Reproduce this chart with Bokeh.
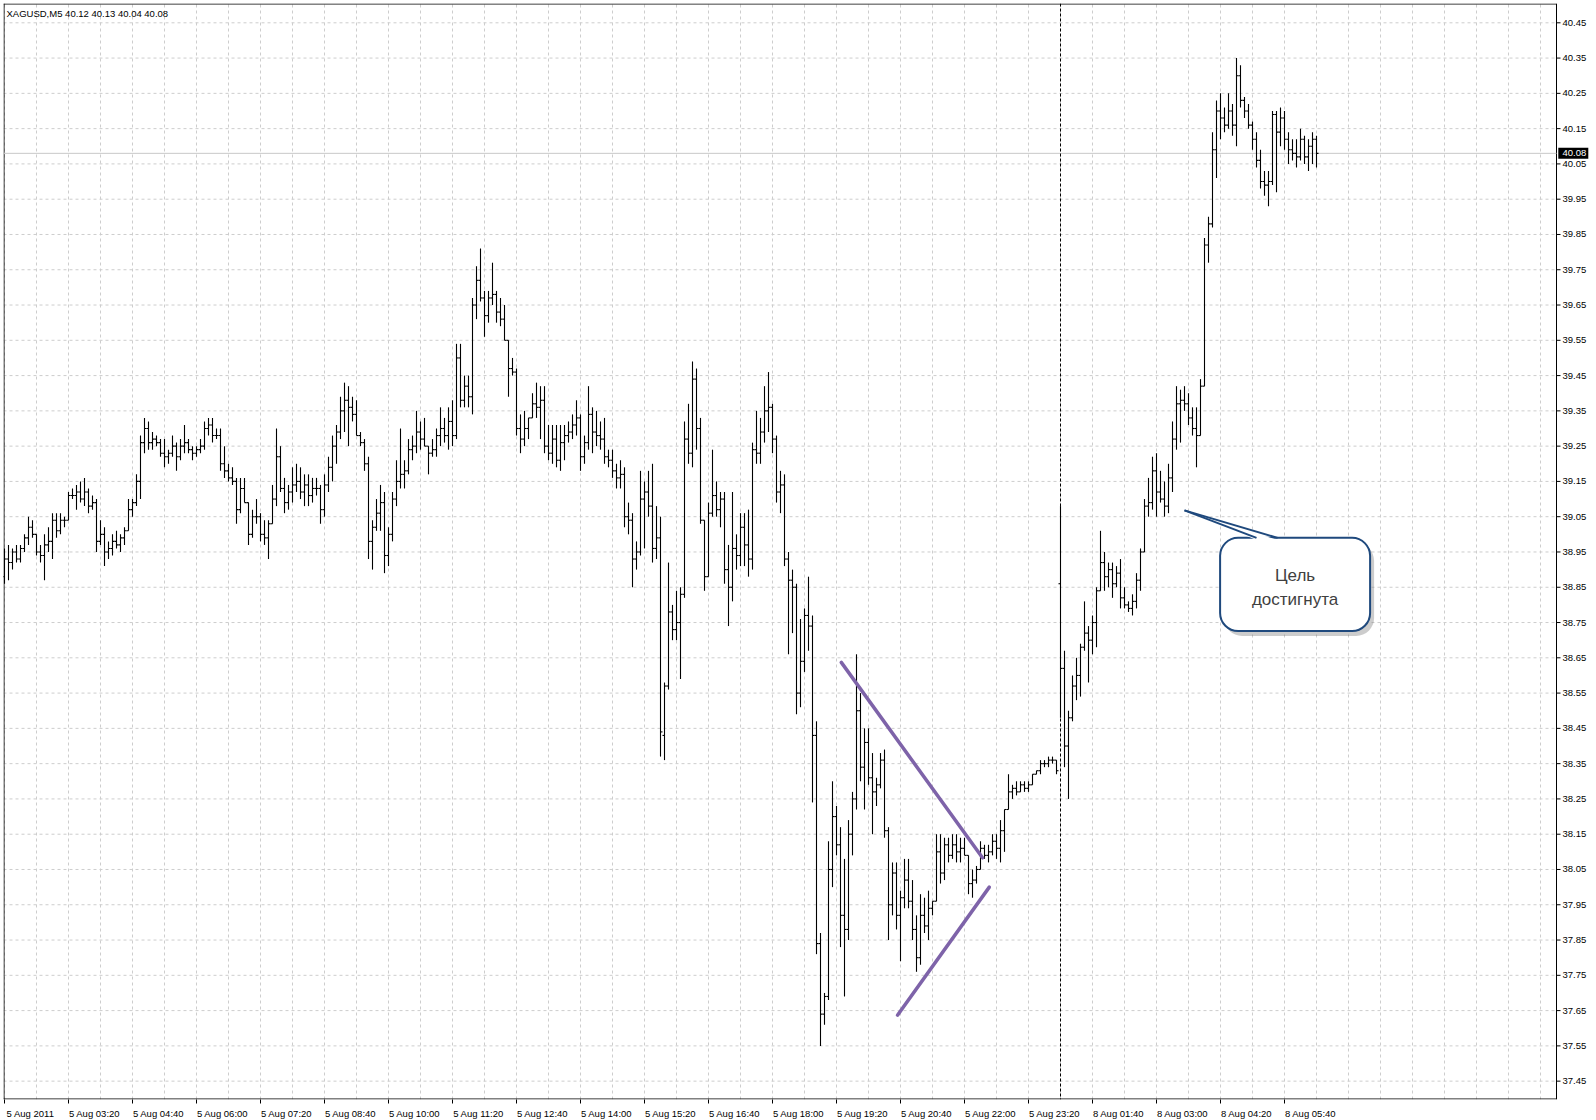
import numpy as np
from bokeh.plotting import figure
from bokeh.models import ColumnDataSource, Range1d, FixedTicker, Span, Label, BoxAnnotation
from bokeh.core.properties import value
from bokeh.embed import file_html
from bokeh.resources import INLINE

# XAGUSD M5, 5 Aug 2011 02:00 .. 8 Aug 2011 ~06:20 (one entry per bar)
opens = [
    38.88, 38.93, 38.92, 38.95, 38.93, 38.96, 38.99, 39.02, 39.00, 38.95,
    38.94, 38.97, 38.98, 39.04, 39.01, 39.04, 39.04, 39.11, 39.11, 39.12,
    39.10, 39.12, 39.08, 39.09, 38.98, 39.00, 38.95, 38.96, 38.98, 38.97,
    38.99, 39.01, 39.07, 39.09, 39.15, 39.26, 39.30, 39.26, 39.27, 39.26,
    39.23, 39.22, 39.23, 39.25, 39.22, 39.25, 39.26, 39.24, 39.23, 39.24,
    39.25, 39.30, 39.31, 39.28, 39.28, 39.20, 39.18, 39.16, 39.15, 39.07,
    39.13, 39.09, 39.00, 39.05, 39.05, 39.00, 38.99, 39.03, 39.10, 39.22,
    39.13, 39.09, 39.12, 39.14, 39.15, 39.12, 39.14, 39.11, 39.13, 39.13,
    39.07, 39.14, 39.19, 39.25, 39.29, 39.35, 39.38, 39.36, 39.34, 39.28,
    39.26, 39.20, 38.98, 39.02, 39.06, 39.09, 38.94, 39.00, 39.10, 39.15,
    39.17, 39.18, 39.24, 39.25, 39.29, 39.27, 39.25, 39.23, 39.24, 39.28,
    39.30, 39.28, 39.32, 39.28, 39.50, 39.38, 39.42, 39.39, 39.65, 39.72,
    39.67, 39.62, 39.67, 39.68, 39.63, 39.61, 39.55, 39.47, 39.46, 39.30,
    39.27, 39.30, 39.33, 39.37, 39.36, 39.38, 39.25, 39.23, 39.27, 39.21,
    39.26, 39.28, 39.29, 39.31, 39.33, 39.22, 39.26, 39.34, 39.29, 39.28,
    39.27, 39.22, 39.21, 39.18, 39.16, 39.17, 39.05, 39.04, 38.93, 38.95,
    39.10, 39.12, 39.08, 38.96, 38.99, 38.43, 38.57, 38.78, 38.73, 38.75,
    38.83, 39.27, 39.23, 39.44, 39.30, 39.04, 38.88, 39.06, 39.11, 39.07,
    39.10, 38.90, 38.85, 38.96, 38.94, 39.02, 38.97, 38.93, 39.24, 39.23,
    39.29, 39.35, 39.36, 39.27, 39.12, 39.14, 38.93, 38.87, 38.85, 38.55,
    38.64, 38.77, 38.74, 38.43, 37.84, 37.64, 37.69, 38.05, 38.20, 38.12,
    37.92, 37.88, 38.15, 38.25, 38.50, 38.34, 38.41, 38.31, 38.27, 38.29,
    38.36, 38.16, 37.95, 38.04, 37.92, 37.97, 38.02, 37.96, 37.88, 37.80,
    37.92, 37.89, 37.94, 37.96, 38.10, 38.04, 38.12, 38.09, 38.12, 38.10,
    38.11, 38.09, 38.01, 38.02, 38.05, 38.11, 38.09, 38.10, 38.13, 38.11,
    38.16, 38.22, 38.27, 38.28, 38.27, 38.29, 38.28, 38.29, 38.32, 38.33,
    38.35, 38.35, 38.36, 38.36, 38.86, 38.62, 38.40, 38.48, 38.57, 38.60,
    38.68, 38.72, 38.70, 38.75, 38.84, 38.92, 38.88, 38.90, 38.86, 38.89,
    38.82, 38.80, 38.79, 38.81, 38.87, 38.95, 39.08, 39.09, 39.18, 39.12,
    39.10, 39.08, 39.16, 39.27, 39.37, 39.38, 39.37, 39.33, 39.30, 39.28,
    39.42, 39.82, 39.88, 40.09, 40.20, 40.18, 40.16, 40.20, 40.16, 40.30,
    40.23, 40.20, 40.16, 40.12, 40.06, 40.00, 39.99, 40.00, 40.19, 40.14,
    40.18, 40.12, 40.09, 40.08, 40.07, 40.12, 40.07, 40.10, 40.12,
]
highs = [
    38.96, 38.97, 38.96, 38.97, 38.97, 39.00, 39.05, 39.04, 39.00, 38.97,
    39.00, 39.02, 39.06, 39.06, 39.06, 39.05, 39.12, 39.13, 39.14, 39.15,
    39.16, 39.13, 39.11, 39.10, 39.04, 39.02, 38.98, 39.00, 39.01, 39.00,
    39.02, 39.10, 39.10, 39.17, 39.28, 39.33, 39.32, 39.29, 39.28, 39.27,
    39.27, 39.24, 39.28, 39.26, 39.27, 39.31, 39.27, 39.25, 39.25, 39.27,
    39.32, 39.33, 39.33, 39.30, 39.30, 39.25, 39.20, 39.19, 39.16, 39.16,
    39.16, 39.09, 39.07, 39.10, 39.06, 39.04, 39.04, 39.14, 39.30, 39.25,
    39.16, 39.14, 39.19, 39.20, 39.19, 39.17, 39.17, 39.16, 39.16, 39.14,
    39.17, 39.22, 39.28, 39.31, 39.39, 39.43, 39.42, 39.39, 39.38, 39.29,
    39.27, 39.22, 39.04, 39.10, 39.14, 39.12, 39.02, 39.12, 39.21, 39.30,
    39.21, 39.27, 39.28, 39.35, 39.32, 39.33, 39.25, 39.27, 39.30, 39.36,
    39.33, 39.36, 39.38, 39.54, 39.54, 39.45, 39.45, 39.67, 39.76, 39.81,
    39.69, 39.69, 39.77, 39.69, 39.67, 39.65, 39.55, 39.50, 39.47, 39.34,
    39.35, 39.33, 39.40, 39.43, 39.42, 39.42, 39.31, 39.31, 39.31, 39.31,
    39.31, 39.32, 39.34, 39.38, 39.34, 39.28, 39.42, 39.36, 39.35, 39.32,
    39.33, 39.24, 39.24, 39.20, 39.21, 39.19, 39.09, 39.06, 38.98, 39.18,
    39.15, 39.18, 39.20, 39.08, 39.05, 38.58, 38.92, 38.80, 38.84, 38.85,
    39.32, 39.37, 39.49, 39.47, 39.33, 39.04, 39.09, 39.24, 39.15, 39.12,
    39.12, 38.97, 39.12, 39.00, 39.06, 39.06, 39.07, 39.26, 39.35, 39.33,
    39.42, 39.46, 39.37, 39.28, 39.18, 39.17, 38.95, 38.90, 38.86, 38.76,
    38.79, 38.88, 38.77, 38.47, 37.87, 37.70, 38.13, 38.30, 38.23, 38.17,
    38.08, 38.19, 38.27, 38.66, 38.55, 38.45, 38.45, 38.38, 38.31, 38.38,
    38.39, 38.17, 38.07, 38.07, 37.99, 38.08, 38.08, 38.02, 37.92, 37.98,
    37.97, 37.99, 37.96, 38.15, 38.15, 38.14, 38.14, 38.15, 38.15, 38.14,
    38.14, 38.09, 38.05, 38.06, 38.13, 38.12, 38.12, 38.15, 38.15, 38.19,
    38.22, 38.32, 38.29, 38.30, 38.30, 38.30, 38.30, 38.32, 38.33, 38.36,
    38.36, 38.37, 38.37, 38.36, 39.08, 38.67, 38.50, 38.60, 38.65, 38.69,
    38.81, 38.74, 38.77, 38.85, 39.01, 38.95, 38.92, 38.92, 38.91, 38.93,
    38.85, 38.81, 38.83, 38.89, 38.96, 39.10, 39.16, 39.22, 39.23, 39.18,
    39.15, 39.20, 39.32, 39.42, 39.41, 39.42, 39.40, 39.36, 39.36, 39.44,
    39.84, 39.90, 40.14, 40.23, 40.25, 40.21, 40.25, 40.22, 40.35, 40.33,
    40.24, 40.22, 40.17, 40.14, 40.09, 40.03, 40.03, 40.20, 40.20, 40.21,
    40.20, 40.14, 40.12, 40.12, 40.15, 40.13, 40.12, 40.14, 40.13,
]
lows = [
    38.86, 38.87, 38.90, 38.92, 38.92, 38.95, 38.97, 38.99, 38.94, 38.92,
    38.87, 38.95, 38.93, 38.99, 39.00, 39.02, 39.04, 39.10, 39.07, 39.09,
    39.08, 39.06, 39.07, 38.95, 38.97, 38.91, 38.93, 38.94, 38.96, 38.95,
    38.97, 39.01, 39.05, 39.08, 39.10, 39.23, 39.24, 39.24, 39.25, 39.22,
    39.19, 39.20, 39.22, 39.18, 39.21, 39.23, 39.23, 39.21, 39.22, 39.23,
    39.24, 39.28, 39.26, 39.27, 39.18, 39.16, 39.15, 39.14, 39.03, 39.06,
    39.09, 38.97, 38.99, 39.03, 38.98, 38.97, 38.93, 39.03, 39.08, 39.12,
    39.06, 39.07, 39.09, 39.12, 39.10, 39.08, 39.08, 39.09, 39.11, 39.03,
    39.05, 39.12, 39.15, 39.20, 39.27, 39.29, 39.25, 39.32, 39.28, 39.25,
    39.18, 38.93, 38.90, 39.01, 39.01, 38.89, 38.91, 38.98, 39.08, 39.13,
    39.13, 39.17, 39.21, 39.23, 39.24, 39.25, 39.17, 39.22, 39.22, 39.25,
    39.26, 39.24, 39.25, 39.27, 39.36, 39.36, 39.36, 39.34, 39.61, 39.66,
    39.56, 39.60, 39.65, 39.60, 39.59, 39.55, 39.39, 39.45, 39.28, 39.23,
    39.25, 39.27, 39.33, 39.33, 39.27, 39.23, 39.21, 39.20, 39.19, 39.18,
    39.21, 39.26, 39.27, 39.28, 39.18, 39.20, 39.24, 39.23, 39.25, 39.24,
    39.20, 39.19, 39.16, 39.13, 39.13, 39.02, 39.00, 38.85, 38.90, 38.94,
    38.96, 39.05, 38.92, 38.93, 38.37, 38.36, 38.56, 38.70, 38.70, 38.59,
    38.82, 39.20, 39.19, 39.24, 39.03, 38.84, 38.88, 39.05, 39.05, 39.02,
    38.86, 38.74, 38.81, 38.90, 38.91, 38.91, 38.88, 38.90, 39.20, 39.20,
    39.26, 39.29, 39.23, 39.09, 39.06, 38.91, 38.66, 38.72, 38.49, 38.51,
    38.61, 38.67, 38.24, 37.81, 37.55, 37.61, 37.68, 38.00, 38.09, 37.83,
    37.69, 37.85, 38.09, 38.22, 38.30, 38.22, 38.29, 38.15, 38.23, 38.28,
    38.14, 37.85, 37.92, 37.88, 37.79, 37.94, 37.94, 37.85, 37.76, 37.78,
    37.87, 37.85, 37.92, 37.96, 38.01, 38.02, 38.07, 38.08, 38.07, 38.07,
    38.09, 37.98, 37.97, 38.01, 38.05, 38.08, 38.07, 38.09, 38.08, 38.07,
    38.10, 38.22, 38.25, 38.26, 38.27, 38.27, 38.27, 38.29, 38.32, 38.32,
    38.34, 38.34, 38.35, 38.32, 38.48, 38.34, 38.25, 38.47, 38.53, 38.54,
    38.67, 38.58, 38.66, 38.68, 38.84, 38.84, 38.85, 38.82, 38.85, 38.79,
    38.79, 38.78, 38.77, 38.79, 38.84, 38.95, 39.05, 39.07, 39.05, 39.09,
    39.05, 39.06, 39.12, 39.24, 39.26, 39.35, 39.31, 39.28, 39.19, 39.28,
    39.42, 39.77, 39.87, 40.01, 40.12, 40.14, 40.15, 40.13, 40.10, 40.21,
    40.18, 40.15, 40.09, 40.04, 39.98, 39.96, 39.93, 39.99, 39.97, 40.10,
    40.09, 40.05, 40.06, 40.04, 40.06, 40.05, 40.03, 40.05, 40.04,
]
closes = [
    38.93, 38.92, 38.95, 38.93, 38.96, 38.99, 39.02, 39.00, 38.95, 38.94,
    38.97, 38.98, 39.04, 39.01, 39.04, 39.04, 39.11, 39.11, 39.12, 39.10,
    39.12, 39.08, 39.09, 38.98, 39.00, 38.95, 38.96, 38.98, 38.97, 38.99,
    39.01, 39.07, 39.09, 39.15, 39.26, 39.30, 39.26, 39.27, 39.26, 39.23,
    39.22, 39.23, 39.25, 39.22, 39.25, 39.26, 39.24, 39.23, 39.24, 39.25,
    39.30, 39.31, 39.28, 39.28, 39.20, 39.18, 39.16, 39.15, 39.07, 39.13,
    39.09, 39.00, 39.05, 39.05, 39.00, 38.99, 39.03, 39.10, 39.22, 39.13,
    39.09, 39.12, 39.14, 39.15, 39.12, 39.14, 39.11, 39.13, 39.13, 39.07,
    39.14, 39.19, 39.25, 39.29, 39.35, 39.38, 39.36, 39.34, 39.28, 39.26,
    39.20, 38.98, 39.02, 39.06, 39.09, 38.94, 39.00, 39.10, 39.15, 39.17,
    39.18, 39.24, 39.25, 39.29, 39.27, 39.25, 39.23, 39.24, 39.28, 39.30,
    39.28, 39.32, 39.28, 39.50, 39.38, 39.42, 39.39, 39.65, 39.72, 39.67,
    39.62, 39.67, 39.68, 39.63, 39.61, 39.55, 39.47, 39.46, 39.30, 39.27,
    39.30, 39.33, 39.37, 39.36, 39.38, 39.25, 39.23, 39.27, 39.21, 39.26,
    39.28, 39.29, 39.31, 39.33, 39.22, 39.26, 39.34, 39.29, 39.28, 39.27,
    39.22, 39.21, 39.18, 39.16, 39.17, 39.05, 39.04, 38.93, 38.95, 39.10,
    39.12, 39.08, 38.96, 38.99, 38.44, 38.57, 38.78, 38.73, 38.75, 38.83,
    39.27, 39.23, 39.44, 39.30, 39.04, 38.88, 39.06, 39.11, 39.07, 39.10,
    38.90, 38.85, 38.96, 38.94, 39.02, 38.97, 38.93, 39.24, 39.23, 39.29,
    39.35, 39.36, 39.27, 39.12, 39.14, 38.93, 38.87, 38.85, 38.55, 38.64,
    38.77, 38.74, 38.43, 37.84, 37.64, 37.69, 38.05, 38.20, 38.12, 37.92,
    37.88, 38.15, 38.25, 38.50, 38.34, 38.41, 38.31, 38.27, 38.29, 38.36,
    38.16, 37.95, 38.04, 37.92, 37.97, 38.02, 37.96, 37.88, 37.80, 37.92,
    37.89, 37.94, 37.96, 38.10, 38.04, 38.12, 38.09, 38.12, 38.10, 38.11,
    38.09, 38.01, 38.02, 38.05, 38.11, 38.09, 38.10, 38.13, 38.11, 38.16,
    38.22, 38.27, 38.28, 38.27, 38.29, 38.28, 38.29, 38.32, 38.33, 38.35,
    38.35, 38.36, 38.36, 38.33, 38.62, 38.40, 38.48, 38.57, 38.60, 38.68,
    38.72, 38.70, 38.75, 38.84, 38.92, 38.88, 38.90, 38.86, 38.89, 38.82,
    38.80, 38.79, 38.81, 38.87, 38.95, 39.08, 39.09, 39.18, 39.12, 39.10,
    39.08, 39.16, 39.27, 39.37, 39.38, 39.37, 39.33, 39.30, 39.28, 39.42,
    39.82, 39.88, 40.09, 40.20, 40.18, 40.16, 40.20, 40.16, 40.30, 40.23,
    40.20, 40.16, 40.12, 40.06, 40.00, 39.99, 40.00, 40.19, 40.14, 40.18,
    40.12, 40.09, 40.08, 40.07, 40.12, 40.07, 40.10, 40.12, 40.08,
]

# time axis: a label every 16 bars
label_bars = list(range(0, 321, 16))
time_labels = [
    "5 Aug 2011", "5 Aug 03:20", "5 Aug 04:40", "5 Aug 06:00", "5 Aug 07:20",
    "5 Aug 08:40", "5 Aug 10:00", "5 Aug 11:20", "5 Aug 12:40", "5 Aug 14:00",
    "5 Aug 15:20", "5 Aug 16:40", "5 Aug 18:00", "5 Aug 19:20", "5 Aug 20:40",
    "5 Aug 22:00", "5 Aug 23:20", "8 Aug 01:40", "8 Aug 03:00", "8 Aug 04:20",
    "8 Aug 05:40",
]
grid_bars = list(range(0, 385, 8))
price_levels = [round(37.45 + 0.1 * k, 2) for k in range(31)]

header_text = "XAGUSD,M5  40.12 40.13 40.04 40.08"
last_price = 40.08
day_start_bar = 264  # first bar of 8 Aug

# hand drawn triangle
trend_x0 = [209.2, 223.25]
trend_y0 = [38.637, 37.637]
trend_x1 = [244.5, 246.2]
trend_y1 = [38.083, 38.000]

callout_lines = ["Цель", "достигнута"]

FONT = "Liberation Sans"
TICK_FONT = "9.5px"
BAR_PX = 4.0          # pixels per bar
PRICE_PX = 352.8      # pixels per 1.00 of price
X0, AX = -0.25, 388.0
Y0, Y1 = 37.398, 40.5047
X1 = X0 + 1588 / BAR_PX
half_x = 0.5 / BAR_PX
half_y = 0.5 / PRICE_PX

bar = np.arange(len(closes))
src = ColumnDataSource(dict(x=bar, xl=bar - 0.5, xr=bar + 0.5,
                            o=opens, h=highs, l=lows, c=closes))

p = figure(frame_width=1588, frame_height=1096,
           x_range=Range1d(X0, X1), y_range=Range1d(Y0, Y1),
           y_axis_location=None, output_backend="svg", toolbar_location=None,
           min_border_left=3, min_border_top=3, min_border_right=0, min_border_bottom=0,
           background_fill_color="white", border_fill_color="white")
p.outline_line_color = None
p.ygrid.visible = False

# vertical grid
p.xgrid.ticker = FixedTicker(ticks=grid_bars)
p.xgrid.grid_line_color = "#CDCDCD"
p.xgrid.grid_line_dash = "3 3"

# horizontal grid, stops at the price scale
p.segment(x0=X0, y0=price_levels, x1=AX, y1=price_levels,
          line_color="#CDCDCD", line_dash="3 3", line_width=1)

# bottom axis: labels start at their tick like in MT4
off = 6.5
xa = p.xaxis[0]
xa.ticker = FixedTicker(ticks=[b + off for b in label_bars], minor_ticks=label_bars)
xa.major_label_overrides = {b + off: t for b, t in zip(label_bars, time_labels)}
xa.major_tick_line_color = None
xa.minor_tick_line_color = "black"
xa.minor_tick_in = 0
xa.minor_tick_out = 4
xa.axis_line_color = None
xa.major_label_standoff = 2
xa.major_label_text_font = FONT
xa.major_label_text_font_size = TICK_FONT
xa.major_label_text_color = "black"

# chart border and the price scale
p.segment(x0=[X0, X0, X0 + half_x, AX], y0=[Y1 - half_y, Y0 + half_y, Y0, Y0],
          x1=[AX, AX, X0 + half_x, AX], y1=[Y1 - half_y, Y0 + half_y, Y1, Y1],
          line_color="black", line_width=1)
p.segment(x0=AX, y0=price_levels, x1=AX + 1.0, y1=price_levels,
          line_color="black", line_width=1)
p.text(x=AX + 1.5, y=price_levels, text=[f"{v:.2f}" for v in price_levels],
       text_align="left", text_baseline="middle", text_color="black",
       text_font=value(FONT), text_font_size=TICK_FONT)

# current price line and day separator
p.segment(x0=[X0], y0=[last_price], x1=[AX], y1=[last_price], line_color="#C8C8C8", line_width=1)
p.add_layout(Span(location=day_start_bar, dimension="height", line_color="black",
                  line_dash="3 2", line_width=1))

# OHLC bars
p.segment(x0="x", y0="l", x1="x", y1="h", source=src, line_color="black", line_width=1.1)
p.segment(x0="xl", y0="o", x1="x", y1="o", source=src, line_color="black", line_width=1.1)
p.segment(x0="x", y0="c", x1="xr", y1="c", source=src, line_color="black", line_width=1.1)

# last price tag on the scale
p.rect(x=[AX + 0.45 + 3.75], y=[last_price], width=30, height=11,
       width_units="screen", height_units="screen", fill_color="black", line_color=None)
p.text(x=[AX + 1.5], y=[last_price], text=["40.08"], text_align="left",
       text_baseline="middle", text_color="white", text_font=value(FONT),
       text_font_size=TICK_FONT)

# triangle lines
p.segment(x0=trend_x0, y0=trend_y0, x1=trend_x1, y1=trend_y1,
          line_color="#7E63A9", line_width=3.5, line_cap="round")

# callout
bx0, bx1, by0, by1 = 303.9, 341.4, 38.726, 38.990
p.add_layout(BoxAnnotation(left=bx0 + 1.0, right=bx1 + 1.0, top=by1 - 0.014, bottom=by0 - 0.014,
                           fill_color="#7F7F7F", fill_alpha=0.4, line_color=None,
                           border_radius=18))
p.add_layout(BoxAnnotation(left=bx0, right=bx1, top=by1, bottom=by0,
                           fill_color="white", fill_alpha=1.0, line_color="#1F497D",
                           line_alpha=1.0, line_width=2, border_radius=18))
tip_x, tip_y = 295.0, 39.068
p.patch(x=[tip_x, 313.0, 318.3], y=[tip_y, by1 - 0.006, by1 - 0.006],
        fill_color="white", line_color=None, level="overlay")
p.segment(x0=[tip_x, tip_x], y0=[tip_y, tip_y], x1=[313.0, 318.3], y1=[by1, by1],
          line_color="#1F497D", line_width=2, level="overlay")
p.text(x=[(bx0 + bx1) / 2] * 2, y=[38.883, 38.816], text=callout_lines,
       text_align="center", text_baseline="middle", text_color="#404040",
       text_font=value(FONT), text_font_size="17px", level="overlay")

# header
p.add_layout(Label(x=0.5, y=40.492, text=header_text, text_baseline="top",
                   text_font=FONT, text_font_size=TICK_FONT, text_color="black"))

open("out.html", "w", encoding="utf-8").write(file_html(p, INLINE, title="XAGUSD,M5"))
